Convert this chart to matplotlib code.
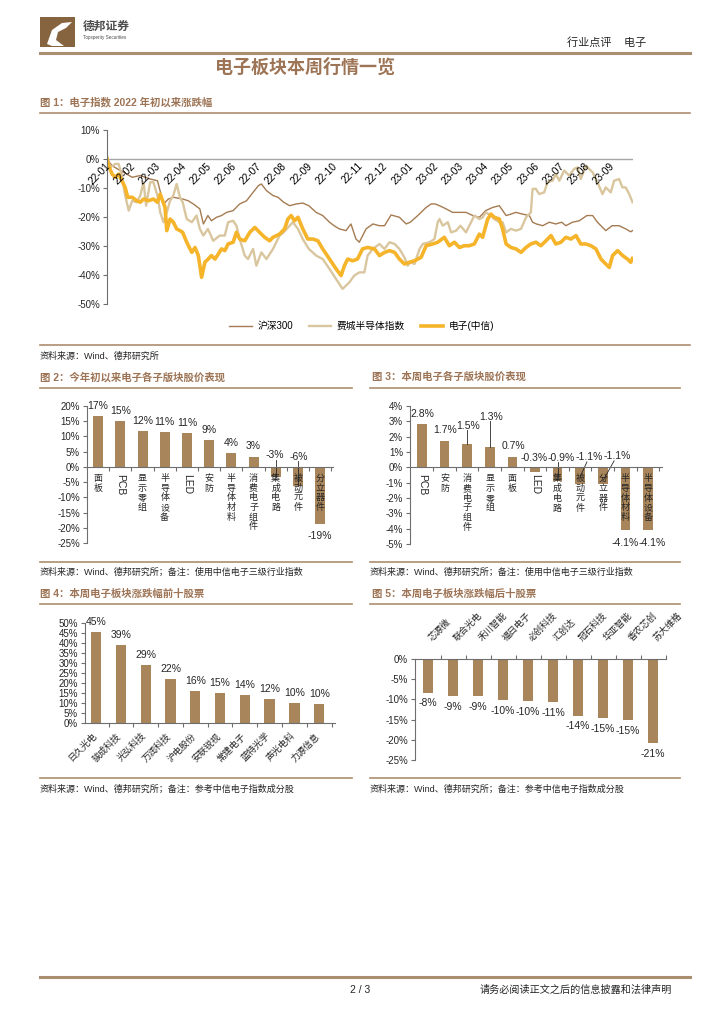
import numpy as np
import matplotlib
matplotlib.use('Agg')
import matplotlib.pyplot as plt
from matplotlib.lines import Line2D
from matplotlib.patches import Rectangle, Polygon
from matplotlib.ticker import FuncFormatter

plt.rcParams['font.family'] = ['Liberation Sans', 'Noto Sans CJK SC', 'DejaVu Sans']

# ---------------- data ----------------
# chart 1: months since 2022-01 and cumulative change (%)
month_labels = ['22-01', '22-02', '22-03', '22-04', '22-05', '22-06', '22-07',
                '22-08', '22-09', '22-10', '22-11', '22-12', '23-01', '23-02',
                '23-03', '23-04', '23-05', '23-06', '23-07', '23-08', '23-09']

hs_t = [0.00, 0.20, 0.53, 1.00, 1.32, 1.71, 2.00, 2.24, 2.43, 2.63, 3.00, 3.22, 3.42, 3.68, 3.82,
        4.00, 4.14, 4.34, 4.54, 4.74, 5.00, 5.26, 5.53, 5.79, 6.00, 6.12, 6.32, 6.58, 6.78, 7.00,
        7.24, 7.50, 7.76, 8.00, 8.29, 8.55, 8.82, 9.00, 9.21, 9.47, 9.67, 9.87, 10.00, 10.27, 10.54,
        10.80, 11.00, 11.26, 11.59, 11.86, 12.02, 12.32, 12.65, 12.85, 13.01, 13.18, 13.44, 13.70,
        14.01, 14.23, 14.50, 14.76, 15.01, 15.29, 15.55, 15.82, 16.01, 16.21, 16.47, 16.74, 16.87,
        17.02, 17.27, 17.53, 17.79, 18.02, 18.19, 18.45, 18.72, 19.02, 19.25, 19.44, 19.77, 20.02,
        20.30, 20.56, 20.76, 20.83]
hs_v = [0, -2.3, -4.0, -6.3, -5.7, -6.9, -7.5, -15.5, -13.8, -13.2, -13.8, -14.4, -15.5, -17.2, -22.4,
        -19.5, -21.3, -20.1, -19.5, -18.4, -17.8, -15.5, -14.4, -11.5, -9.2, -8.6, -10.9, -12.6, -13.2,
        -14.9, -16.1, -15.5, -15.2, -16.1, -18.4, -19.5, -21.8, -23.0, -24.1, -24.7, -22.4, -27.6, -28.7,
        -24.1, -22.4, -23.0, -23.0, -19.3, -20.1, -22.4, -21.8, -19.5, -16.7, -15.5, -15.5, -16.1, -17.2,
        -18.4, -18.4, -18.4, -19.5, -20.1, -17.8, -16.7, -16.1, -19.5, -19.0, -18.4, -19.0, -19.5, -21.8,
        -22.4, -23.0, -21.8, -22.4, -21.8, -23.0, -21.8, -21.3, -19.5, -19.5, -21.8, -24.7, -23.0, -23.0,
        -24.1, -25.1, -24.7]

sox_t = [0.00, 0.13, 0.33, 0.46, 0.59, 0.72, 0.86, 1.00, 1.18, 1.32, 1.45, 1.55, 1.71, 1.84, 2.00,
         2.11, 2.24, 2.37, 2.50, 2.63, 2.76, 2.89, 3.00, 3.16, 3.36, 3.55, 3.68, 3.82, 4.00, 4.21,
         4.47, 4.67, 4.80, 5.00, 5.13, 5.26, 5.46, 5.59, 5.79, 5.92, 6.12, 6.32, 6.58, 6.84, 7.00,
         7.24, 7.37, 7.57, 7.76, 8.00, 8.29, 8.55, 8.82, 9.08, 9.34, 9.61, 9.80, 10.00, 10.20, 10.33,
         10.54, 10.80, 11.00, 11.20, 11.40, 11.59, 11.79, 11.92, 12.02, 12.19, 12.39, 12.52, 12.78,
         12.98, 13.11, 13.18, 13.31, 13.51, 13.64, 13.84, 14.01, 14.23, 14.43, 14.56, 14.76, 14.89,
         15.02, 15.22, 15.35, 15.55, 15.68, 15.82, 16.01, 16.21, 16.41, 16.61, 16.74, 16.80, 16.87,
         17.00, 17.13, 17.33, 17.46, 17.66, 17.79, 17.93, 18.12, 18.32, 18.52, 18.65, 18.78, 18.98,
         19.11, 19.25, 19.44, 19.64, 19.77, 19.97, 20.10, 20.30, 20.43, 20.56, 20.70, 20.83]
sox_v = [1.1, -2.9, -1.7, -1.7, -5.7, -12.6, -17.8, -14.4, -14.9, -12.6, -8.0, -16.1, -8.0, -8.0, -12.6,
         -18.4, -21.8, -18.4, -14.4, -12.6, -8.6, -13.2, -14.9, -20.7, -21.8, -19.5, -24.1, -26.4, -24.1,
         -28.2, -26.4, -26.4, -21.8, -21.3, -23.0, -27.6, -33.3, -34.5, -31.0, -36.8, -32.2, -34.5, -31.0,
         -26.4, -25.3, -23.0, -21.8, -24.1, -27.6, -31.0, -33.3, -34.5, -37.9, -41.4, -44.8, -42.5, -40.2,
         -39.1, -39.1, -33.3, -31.0, -29.3, -31.0, -28.7, -29.3, -31.0, -33.9, -36.8, -35.6, -36.2, -31.0,
         -29.3, -28.7, -27.6, -21.8, -20.7, -23.0, -21.8, -25.3, -24.7, -23.0, -25.3, -21.8, -19.5, -20.7,
         -20.1, -18.4, -19.5, -20.7, -21.8, -21.8, -25.3, -24.1, -24.7, -24.1, -20.1, -19.0, -18.4, -10.3,
         -10.3, -12.1, -11.5, -8.0, -7.5, -5.2, -7.5, -4.0, -5.7, -3.4, -2.9, -6.9, -2.3, -3.4, -4.6, -8.0,
         -12.1, -9.8, -11.5, -7.5, -6.9, -9.8, -9.8, -12.1, -14.9]

dz_t = [0.00, 0.07, 0.20, 0.33, 0.46, 0.59, 0.72, 0.82, 1.00, 1.18, 1.32, 1.45, 1.64, 1.84, 2.00,
        2.11, 2.30, 2.37, 2.50, 2.63, 2.76, 2.89, 3.00, 3.16, 3.36, 3.49, 3.62, 3.75, 3.88, 4.01,
        4.14, 4.28, 4.41, 4.54, 4.67, 4.80, 5.00, 5.13, 5.26, 5.46, 5.66, 5.86, 6.05, 6.25, 6.45,
        6.58, 6.84, 7.04, 7.17, 7.30, 7.43, 7.57, 7.76, 7.96, 8.16, 8.36, 8.55, 8.82, 9.08, 9.28,
        9.41, 9.54, 9.74, 9.93, 10.13, 10.33, 10.60, 10.80, 11.00, 11.20, 11.40, 11.59, 11.79, 11.99,
        12.19, 12.45, 12.65, 12.91, 13.11, 13.37, 13.57, 13.77, 13.97, 14.17, 14.36, 14.56, 14.76,
        14.89, 15.09, 15.22, 15.35, 15.55, 15.68, 15.82, 16.01, 16.21, 16.41, 16.61, 16.80, 17.00,
        17.20, 17.40, 17.60, 17.79, 17.99, 18.19, 18.39, 18.59, 18.78, 18.98, 19.18, 19.38, 19.58,
        19.77, 19.91, 20.04, 20.24, 20.44, 20.63, 20.76, 20.83]
dz_v = [0, -2.3, -5.2, -6.3, -5.2, -7.5, -9.8, -13.2, -13.2, -14.4, -14.9, -13.8, -14.4, -13.8, -14.9,
        -12.1, -16.7, -24.7, -20.7, -21.8, -24.1, -24.7, -25.3, -28.7, -32.2, -30.5, -33.3, -40.8, -35.6,
        -34.5, -33.3, -34.5, -32.8, -31.0, -31.6, -29.3, -28.7, -25.3, -27.6, -28.2, -25.3, -23.6, -25.3,
        -27.0, -28.2, -27.0, -25.9, -24.1, -20.7, -19.5, -21.3, -20.1, -24.1, -27.6, -27.6, -28.2, -31.0,
        -34.5, -37.9, -40.2, -36.8, -34.5, -35.1, -34.5, -31.0, -30.5, -31.0, -33.3, -32.2, -31.6, -32.2,
        -34.5, -36.2, -35.6, -35.1, -33.9, -29.9, -29.3, -28.7, -27.0, -29.9, -28.7, -30.5, -29.9, -29.9,
        -29.3, -25.9, -27.0, -20.7, -19.0, -20.1, -20.7, -24.1, -29.3, -30.5, -31.0, -32.2, -30.5, -29.3,
        -28.7, -29.9, -28.2, -26.4, -29.3, -28.7, -27.0, -27.6, -26.4, -29.3, -29.3, -29.9, -31.0, -34.5,
        -36.2, -37.4, -33.3, -31.6, -33.3, -34.5, -35.6, -34.3]

series_names = ['沪深300', '费城半导体指数', '电子(中信)']

# chart 2: year-to-date change of sub-sectors (%)
ytd_names = ['面板', 'PCB', '显示零组', '半导体设备', 'LED', '安防', '半导体材料',
             '消费电子组件', '集成电路', '被动元件', '分立器件']
ytd_values = [16.8, 15.1, 11.7, 11.4, 11.1, 8.9, 4.4, 3.4, -3.4, -6.3, -18.8]

# chart 3: this week's change of sub-sectors (%)
week_names = ['PCB', '安防', '消费电子组件', '显示零组', '面板', 'LED', '集成电路',
              '被动元件', '分立器件', '半导体材料', '半导体设备']
week_values = [2.8, 1.7, 1.5, 1.3, 0.7, -0.3, -0.9, -1.1, -1.1, -4.1, -4.1]

# chart 4: top ten gainers (%)
top_names = ['日久光电', '骏成科技', '光弘科技', '万润科技', '沪电股份', '安联锐视',
             '常建电子', '蓝特光学', '声光电科', '力源信息']
top_values = [45.4, 38.8, 29.0, 22.0, 16.0, 15.0, 14.0, 11.8, 9.8, 9.5]

# chart 5: bottom ten (%)
bot_names = ['芯源微', '联合光电', '禾川智能', '福日电子', '必创科技', '汇创达',
             '冠石科技', '华亚智能', '香农芯创', '苏大维格']
bot_values = [-8.3, -9.1, -9.1, -10.2, -10.4, -10.6, -14.0, -14.7, -15.1, -20.8]

# ---------------- page layout ----------------
W, H = 724, 1024
BAR = '#a8855b'
RULE = '#ab8d6f'
TITLE = '#9d7455'
DARK = '#262626'
AXC = '#6e6e6e'

fig = plt.figure(figsize=(W / 100, H / 100), dpi=100)


def px_ax(l, t, r, b):
    return fig.add_axes([l / W, 1 - b / H, (r - l) / W, (b - t) / H])


def px_text(x, y, s, **kw):
    fig.text(x / W, 1 - y / H, s, **kw)


def px_rule(x0, x1, y, lw=1.4, color=RULE):
    fig.add_artist(Line2D([x0 / W, x1 / W], [1 - y / H, 1 - y / H], lw=lw, color=color))


pct = FuncFormatter(lambda v, p: '%d%%' % round(v))


def style(ax):
    for s in ['top', 'right', 'bottom']:
        ax.spines[s].set_visible(False)
    ax.spines['left'].set_color(AXC)
    ax.spines['left'].set_linewidth(0.8)
    ax.tick_params(axis='y', length=3, width=0.8, color=AXC, labelsize=7, pad=2, labelcolor=DARK)
    ax.yaxis.set_major_formatter(pct)
    ax.patch.set_alpha(0)


def cat_axis(ax, n, side='bottom'):
    # category axis drawn on the zero line with small boundary ticks
    ax.spines[side].set_visible(True)
    ax.spines[side].set_position(('data', 0))
    ax.spines[side].set_color(AXC)
    ax.spines[side].set_linewidth(0.8)
    ax.set_xticks(np.arange(n) + 0.5)
    ax.set_xticklabels([])
    if side == 'top':
        ax.xaxis.tick_top()
    ax.tick_params(axis='x', length=3, width=0.8, color=AXC, direction='out')


def vlabel(ax, i, name, size=6.5):
    if name.isascii():
        ax.annotate(name, (i, 0), xytext=(0, -5), textcoords='offset points',
                    rotation=270, ha='center', va='top', fontsize=7.5, color=DARK)
    else:
        ax.annotate('\n'.join(name), (i, 0), xytext=(0, -5), textcoords='offset points',
                    ha='center', va='top', fontsize=size, linespacing=1.1, color=DARK)


# header
fig.add_artist(Rectangle((40 / W, 1 - 47 / H), 35 / W, 30 / H, transform=fig.transFigure,
                         color='#86643f', lw=0))
fig.add_artist(Polygon([(47 / W, 1 - 44 / H), (52 / W, 1 - 30 / H), (62 / W, 1 - 23 / H),
                        (72 / W, 1 - 22 / H), (66 / W, 1 - 28 / H), (58 / W, 1 - 32 / H),
                        (56 / W, 1 - 40 / H), (64 / W, 1 - 46 / H), (52 / W, 1 - 46 / H)],
                       closed=True, transform=fig.transFigure, color='white', lw=0))
px_text(83, 27, '德邦证券', fontsize=8.5, fontweight='bold', color='#4d4d4d', va='center')
px_text(83, 37, 'Topsperity Securities', fontsize=3.3, color='#4d4d4d', va='center')
px_text(567, 43, '行业点评    电子', fontsize=8, color=DARK, va='center')
px_rule(40, 690, 53, lw=2.2)
px_text(305, 68, '电子板块本周行情一览', fontsize=13, fontweight='bold', color=TITLE,
        ha='center', va='center')

# ---------------- chart 1 ----------------
px_text(40, 102, '图 1：电子指数 2022 年初以来涨跌幅', fontsize=7.5, fontweight='bold',
        color=TITLE, va='center')
px_rule(40, 690, 113, lw=1.2)

ax1 = px_ax(107, 130, 633, 304)
style(ax1)
h1, = ax1.plot(hs_t, hs_v, color='#a57b52', lw=1.0)
h2, = ax1.plot(sox_t, sox_v, color='#d9c69e', lw=1.7)
h3, = ax1.plot(dz_t, dz_v, color='#f5b42a', lw=2.6)
ax1.axhline(0, color='#a6a6a6', lw=1.0, zorder=0)
ax1.set_xlim(0, 20.85)
ax1.set_ylim(-50, 10)
ax1.set_yticks(np.arange(-50, 11, 10))
ax1.set_xticks([])
for i, lab in enumerate(month_labels):
    ax1.text(i + 0.2, -0.7, lab, rotation=45, ha='right', va='top', fontsize=7.3, color='black')
fig.legend([h1, h2, h3], series_names, loc='center', bbox_to_anchor=(362 / W, 1 - 326 / H),
           ncol=3, frameon=False, fontsize=7, handlelength=2.3, columnspacing=1.6,
           handletextpad=0.6)
px_rule(40, 690, 345, lw=1.2)
px_text(40, 356, '资料来源：Wind、德邦研究所', fontsize=6.5, color=DARK, va='center')

# ---------------- chart 2 ----------------
px_text(40, 377, '图 2：今年初以来电子各子版块股价表现', fontsize=7.5, fontweight='bold',
        color=TITLE, va='center')
px_rule(40, 352, 388, lw=1.2)
ax2 = px_ax(87, 406, 333, 543)
style(ax2)
x2 = np.arange(len(ytd_names))
ax2.bar(x2, ytd_values, width=0.45, color=BAR)
ax2.set_xlim(-0.5, 10.58)
ax2.set_ylim(-25, 20)
ax2.set_yticks(np.arange(-25, 21, 5))
cat_axis(ax2, len(ytd_names))
for i, name in enumerate(ytd_names):
    vlabel(ax2, i, name)
# label placement (moved labels as in the source chart)
moved2 = {8: (7.97, 3.9), 9: (9.02, 3.3)}
for i, v in enumerate(ytd_values):
    xy = moved2.get(i, (i, v + 3.3 if v > 0 else v - 3.9))
    ax2.text(xy[0], xy[1], '%d%%' % round(v), ha='center', va='center', fontsize=7.5, color=DARK)
for i, y0 in [(8, 2.2), (9, 1.8)]:
    ax2.plot([i, i], [y0, ytd_values[i]], color=DARK, lw=0.6)
px_rule(40, 352, 562, lw=1.2)
px_text(40, 572, '资料来源：Wind、德邦研究所；备注：使用中信电子三级行业指数', fontsize=6.5,
        color=DARK, va='center')

# ---------------- chart 3 ----------------
px_text(372, 377, '图 3：本周电子各子版块股价表现', fontsize=7.5, fontweight='bold',
        color=TITLE, va='center')
px_rule(370, 680, 388, lw=1.2)
ax3 = px_ax(410, 406, 662, 544)
style(ax3)
x3 = np.arange(len(week_names))
ax3.bar(x3, week_values, width=0.42, color=BAR)
ax3.set_xlim(-0.53, 10.62)
ax3.set_ylim(-5, 4)
ax3.set_yticks(np.arange(-5, 5, 1))
cat_axis(ax3, len(week_names))
for i, name in enumerate(week_names):
    vlabel(ax3, i, name)
lab3 = [(0.0, 3.5), (1.02, 2.43), (2.05, 2.72), (3.05, 3.26), (4.04, 1.39), (4.95, 0.59),
        (6.18, 0.59), (7.39, 0.69), (8.64, 0.73), (8.98, -4.92), (10.2, -4.92)]
for (lx, ly), v in zip(lab3, week_values):
    ax3.text(lx, ly, '%.1f%%' % v, ha='center', va='center', fontsize=7.5, color=DARK)
for (xa, ya), (xb, yb) in [((2.0, 2.45), (2.0, 1.5)), ((3.0, 3.0), (3.0, 1.3)),
                           ((6.0, 0.35), (6.0, -0.6)), ((7.3, 0.35), (7.0, -0.6)),
                           ((8.5, 0.42), (8.0, -0.9))]:
    ax3.plot([xa, xb], [ya, yb], color=DARK, lw=0.6)
px_rule(370, 680, 562, lw=1.2)
px_text(370, 572, '资料来源：Wind、德邦研究所；备注：使用中信电子三级行业指数', fontsize=6.5,
        color=DARK, va='center')

# ---------------- chart 4 ----------------
px_text(40, 594, '图 4：本周电子板块涨跌幅前十股票', fontsize=7.5, fontweight='bold',
        color=TITLE, va='center')
px_rule(40, 352, 604, lw=1.2)
ax4 = px_ax(85, 623, 335, 723)
style(ax4)
x4 = np.arange(len(top_names))
ax4.bar(x4, top_values, width=0.42, color=BAR)
ax4.set_xlim(-0.45, 9.64)
ax4.set_ylim(0, 50)
ax4.set_yticks(np.arange(0, 51, 5))
cat_axis(ax4, len(top_names))
for i, name in enumerate(top_names):
    ax4.annotate(name, (i, 0), xytext=(1.5, -6), textcoords='offset points', rotation=45,
                 ha='right', va='top', fontsize=6.5, color=DARK)
for i, v in enumerate(top_values):
    ax4.text(i, v + 5.2, '%d%%' % round(v), ha='center', va='center', fontsize=7.5, color=DARK)
px_rule(40, 352, 778, lw=1.2)
px_text(40, 789, '资料来源：Wind、德邦研究所；备注：参考中信电子指数成分股', fontsize=6.5,
        color=DARK, va='center')

# ---------------- chart 5 ----------------
px_text(372, 594, '图 5：本周电子板块涨跌幅后十股票', fontsize=7.5, fontweight='bold',
        color=TITLE, va='center')
px_rule(370, 680, 604, lw=1.2)
ax5 = px_ax(415, 659, 666, 760)
style(ax5)
x5 = np.arange(len(bot_names))
ax5.bar(x5, bot_values, width=0.42, color=BAR)
ax5.set_xlim(-0.52, 9.52)
ax5.set_ylim(-25, 0)
ax5.set_yticks(np.arange(-25, 1, 5))
cat_axis(ax5, len(bot_names), side='top')
for i, name in enumerate(bot_names):
    ax5.annotate(name, (i, 0), xytext=(-1, 12), textcoords='offset points', rotation=45,
                 ha='left', va='bottom', fontsize=6.5, color=DARK)
for i, v in enumerate(bot_values):
    ax5.text(i, v - 2.7, '%d%%' % round(v), ha='center', va='center', fontsize=7.5, color=DARK)
px_rule(370, 680, 778, lw=1.2)
px_text(370, 789, '资料来源：Wind、德邦研究所；备注：参考中信电子指数成分股', fontsize=6.5,
        color=DARK, va='center')

# footer
px_rule(40, 690, 977, lw=2.2)
px_text(360, 990, '2 / 3', fontsize=7.5, color=DARK, ha='center', va='center')
px_text(672, 990, '请务必阅读正文之后的信息披露和法律声明', fontsize=7.3, color=DARK,
        ha='right', va='center')

fig.savefig('out.png', dpi=100)
